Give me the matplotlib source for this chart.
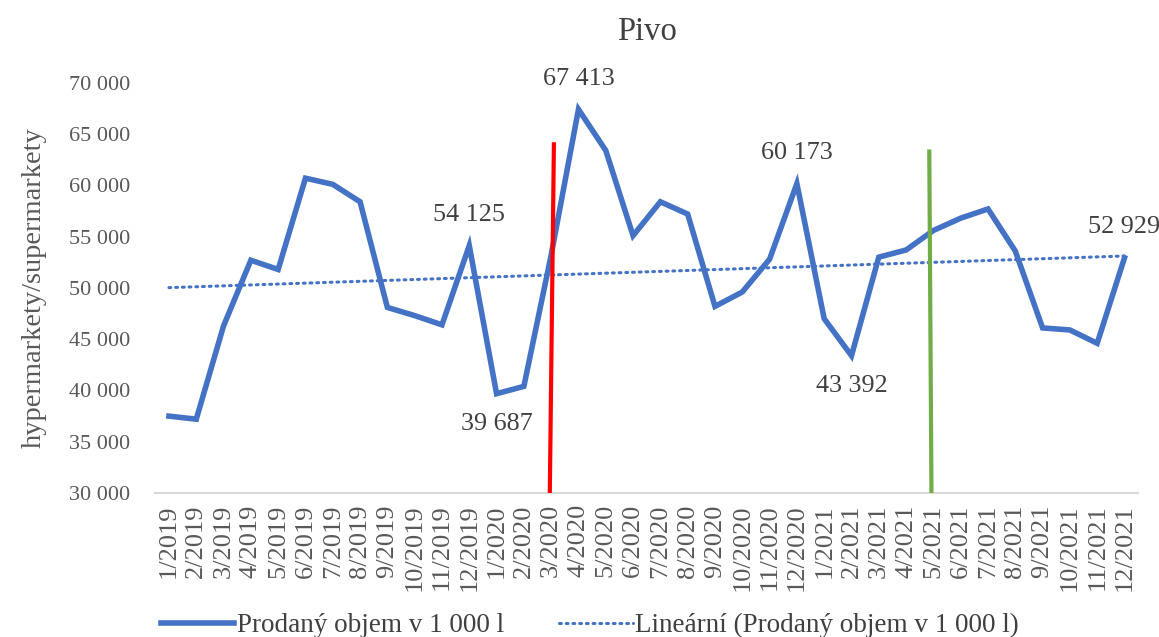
import matplotlib
matplotlib.use("Agg")
import matplotlib.pyplot as plt
import numpy as np

plt.rcParams['font.family'] = ['Liberation Serif', 'DejaVu Serif']

months = ([f"{m}/2019" for m in range(1, 13)] + [f"{m}/2020" for m in range(1, 13)]
          + [f"{m}/2021" for m in range(1, 13)])
volume = [37500, 37200, 46300, 52700, 51800, 60700, 60100, 58400, 48100, 47300, 46400, 54125,
          39687, 40400, 53200, 67413, 63400, 55100, 58400, 57200, 48200, 49600, 52800, 60173,
          47000, 43392, 53000, 53700, 55600, 56800, 57700, 53600, 46100, 45900, 44600, 52929]
labelled = {11: "54 125", 12: "39 687", 15: "67 413", 23: "60 173", 25: "43 392", 35: "52 929"}
label_below = [12, 25]

blue = '#4472C4'
x = np.arange(len(months))

fig = plt.figure(figsize=(11.59, 6.37), dpi=100)
ax = fig.add_axes([0.134, 0.226, 0.848, 0.644])

ax.plot(x, volume, color=blue, lw=4, solid_joinstyle='miter', label='Prodaný objem v 1 000 l', zorder=3)
coef = np.polyfit(x, volume, 1)
ax.plot(x, np.polyval(coef, x), color=blue, lw=2.2, ls=(0, (0.6, 1.6)), dash_capstyle='round',
        label='Lineární (Prodaný objem v 1 000 l)', zorder=2)

# event markers
ax.plot([13.95, 14.1], [30000, 64000], color='#FF0000', lw=3, zorder=4)
ax.plot([27.93, 27.85], [30000, 63300], color='#70AD47', lw=3, zorder=4)

for i, txt in labelled.items():
    if i in label_below:
        ax.annotate(txt, (x[i], volume[i]), xytext=(0, -14), textcoords='offset points',
                    ha='center', va='top', fontsize=18.8, color='#404040')
    else:
        ax.annotate(txt, (x[i], volume[i]), xytext=(0, 14), textcoords='offset points',
                    ha='center', va='bottom', fontsize=18.8, color='#404040')

ax.set_xlim(-0.5, len(months) - 0.5)
ax.set_ylim(30000, 70000)
ax.set_yticks(range(30000, 70001, 5000))
ax.set_yticklabels([f"{v // 1000} 000" for v in range(30000, 70001, 5000)])
ax.set_xticks(x)
ax.set_xticklabels(months, rotation=90)
ax.tick_params(axis='both', length=0, labelcolor='#595959')
ax.tick_params(axis='y', pad=18, labelsize=16)
ax.tick_params(axis='x', pad=8, labelsize=19)
for s in ['top', 'right', 'left']:
    ax.spines[s].set_visible(False)
ax.spines['bottom'].set_color('#D9D9D9')
ax.spines['bottom'].set_linewidth(1.5)

ax.set_ylabel('hypermarkety/supermarkety', fontsize=20.5, color='#595959', labelpad=16)
ax.set_title('Pivo', fontsize=23.5, color='#404040', pad=31)

fig.legend(loc='lower center', bbox_to_anchor=(0.509, -0.04), ncol=2, frameon=False,
           fontsize=19.5, handlelength=2.7, columnspacing=2.05, handletextpad=0.1,
           labelcolor='#404040')

fig.savefig('out.png', dpi=100)
